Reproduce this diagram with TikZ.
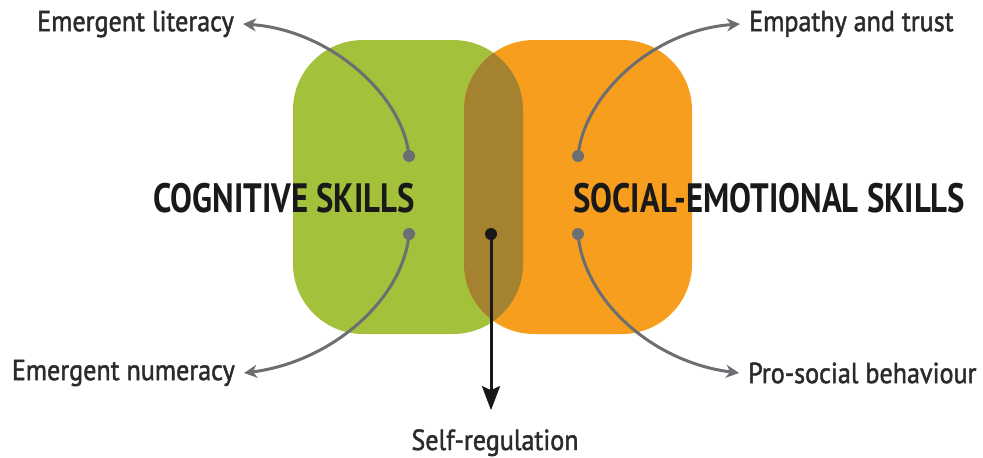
\documentclass[tikz,border=0pt]{standalone}
\usepackage{fontspec}
\setmainfont{PT Sans}[FakeStretch=0.8]
\newfontfamily\labelfont{PT Sans}[FakeStretch=0.9, FakeBold=1.6]
\usetikzlibrary{arrows.meta}
\definecolor{cogGreen}{HTML}{A3C13A}
\definecolor{seOrange}{HTML}{F79E1E}
\definecolor{mixBrown}{HTML}{A5822F}
\definecolor{linkGray}{HTML}{6D6E71}
\definecolor{labelInk}{HTML}{2B2B2B}
\tikzset{
  label/.style={font=\labelfont\fontsize{29}{32}\selectfont, text=labelInk, inner xsep=9pt, inner ysep=0pt},
  heading/.style={font=\bfseries\fontsize{41}{44}\selectfont, text=black!90, inner sep=0pt},
  link/.style={draw=linkGray, line width=3pt, -{Stealth[length=13pt,width=13pt,inset=4pt]}},
  mainlink/.style={draw=black!90, line width=3pt, -{Stealth[length=24pt,width=18pt,inset=4pt]}},
  pin/.style={circle, fill=linkGray, minimum size=12pt, inner sep=0pt},
  mainpin/.style={circle, fill=black!90, minimum size=12pt, inner sep=0pt},
}
\begin{document}
\begin{tikzpicture}[x=1pt,y=-1pt]
\useasboundingbox (0,0) rectangle (983,458);

% the two skill areas and their shared part
\fill[cogGreen, rounded corners=70pt] (293,40) rectangle (523,334);
\fill[seOrange, rounded corners=70pt] (464,40) rectangle (692,334);
\begin{scope}
  \clip[rounded corners=70pt] (293,40) rectangle (523,334);
  \fill[mixBrown, rounded corners=70pt] (464,40) rectangle (692,334);
\end{scope}

% headings
\node[heading, anchor=base east] (cog) at (415,212) {COGNITIVE SKILLS};
\node[heading, anchor=base west] (soc) at (573,212) {SOCIAL-EMOTIONAL SKILLS};

% connector origins
\node[pin] (pLit) at (409,156) {};
\node[pin] (pNum) at (409,234) {};
\node[pin] (pEmp) at (578,156) {};
\node[pin] (pPro) at (578,234) {};
\node[mainpin] (pSelf) at (491,234) {};

% outcome labels
\node[label, anchor=east] (lit) at (243,24) {Emergent literacy};
\node[label, anchor=east] (num) at (244,373) {Emergent numeracy};
\node[label, anchor=west] (emp) at (740,24) {Empathy and trust};
\node[label, anchor=west] (pro) at (739,373) {Pro-social behaviour};
\node[label, anchor=base, inner ysep=19pt] (self) at (495,450) {Self-regulation};

% connectors
\draw[link] (pLit.center) .. controls +(-6,-61) and +(87,6) .. (lit.east);
\draw[link] (pNum.center) .. controls +(-6,66) and +(87,-11) .. (num.east);
\draw[link] (pEmp.center) .. controls +(6,-61) and +(-87,6) .. (emp.west);
\draw[link] (pPro.center) .. controls +(6,66) and +(-87,-11) .. (pro.west);
\draw[mainlink] (pSelf.center) -- (pSelf.center |- self.north);
\end{tikzpicture}
\end{document}
